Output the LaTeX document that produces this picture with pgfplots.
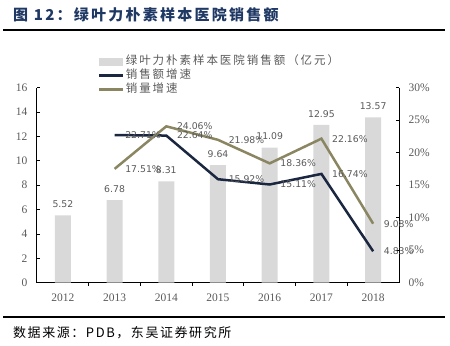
\documentclass[border=0pt]{standalone}
\usepackage{pgfplots}
\pgfplotsset{compat=1.18}
\usepackage{fontspec}
\setmainfont{Liberation Serif}
\newfontfamily\cjkleg[LetterSpace=17]{Noto Sans CJK SC}
\newfontfamily\cjktitle[LetterSpace=15]{Noto Sans CJK SC}
\newfontfamily\cjkfoot[LetterSpace=12]{Noto Sans CJK SC}
\newfontfamily\dlab{DejaVu Sans}
\definecolor{barcol}{RGB}{217,217,217}
\definecolor{linenavy}{RGB}{27,38,64}
\definecolor{lineolive}{RGB}{139,134,98}
\definecolor{txtgray}{RGB}{89,89,89}
\definecolor{titleblue}{RGB}{31,56,100}
\pgfplotsset{
 barlegend/.style={legend image code/.code={\fill[barcol] (0bp,-3.5bp) rectangle (23bp,3.5bp);}},
 linelegend/.style={legend image code/.code={\draw[##1, line width=2.6bp] (0bp,0bp) -- (24bp,0bp);}},
}
\begin{document}
\begin{tikzpicture}
\useasboundingbox (0,0) rectangle (450bp,-346bp);
\node[anchor=west, inner sep=0, text=titleblue, font=\cjktitle\bfseries\fontsize{15bp}{16bp}\selectfont] at (13bp,-15bp) {图 12：绿叶力朴素样本医院销售额};
\draw[line width=2bp] (3bp,-30.3bp) -- (445bp,-30.3bp);
\draw[line width=1.8bp] (3bp,-317bp) -- (445bp,-317bp);
\node[anchor=west, inner sep=0, font=\cjkfoot\fontsize{13bp}{14bp}\selectfont] at (13bp,-333bp) {数据来源：PDB，东吴证券研究所};

\begin{axis}[
 at={(37bp,-282.7bp)}, anchor=south west, scale only axis, width=362bp, height=195bp,
 clip=false,
 xmin=-0.5, xmax=6.5, ymin=0, ymax=16,
 axis x line*=bottom, axis y line*=left,
 axis line style={black, line width=1bp},
 xtick={0,...,6}, xticklabels={2012,2013,2014,2015,2016,2017,2018},
 minor xtick={0.5,1.5,2.5,3.5,4.5,5.5},
 ytick={0,2,...,16},
 tick align=inside, major tick length=3bp, minor tick length=3bp,
 tick style={black, line width=0.8bp},
 major x tick style={draw=none},
 /pgf/number format/assume math mode=true,
 tick label style={font=\fontsize{11.5bp}{12bp}\selectfont, text=txtgray},
 xticklabel style={yshift=-5bp},
 yticklabel style={xshift=-6bp},
 ybar, bar width=16bp,
 nodes near coords={\pgfmathprintnumber[fixed,fixed zerofill,precision=2]{\pgfplotspointmeta}},
 every node near coord/.append style={font=\dlab\fontsize{9.3bp}{10bp}\selectfont, text=txtgray, inner sep=2bp, yshift=5.5bp},
]
\addplot[fill=barcol, draw=none] coordinates {(0,5.52) (1,6.78) (2,8.31) (3,9.64) (4,11.09) (5,12.95) (6,13.57)};
\end{axis}

\begin{axis}[
 at={(37bp,-282.7bp)}, anchor=south west, scale only axis, width=362bp, height=195bp,
 clip=false,
 xmin=-0.5, xmax=6.5, ymin=0, ymax=30,
 axis x line=none, axis y line*=right,
 axis line style={black, line width=1bp},
 ytick={0,5,...,30}, yticklabel={\pgfmathprintnumber{\tick}\%},
 tick align=inside, major tick length=3bp,
 tick style={black, line width=0.8bp},
 /pgf/number format/assume math mode=true,
 tick label style={font=\fontsize{11.5bp}{12bp}\selectfont, text=txtgray},
 yticklabel style={xshift=6bp},
 legend style={at={(0.1685,1.172)}, anchor=north west, draw=none, fill=none, inner sep=0pt,
   font=\cjkleg\fontsize{11.5bp}{13bp}\selectfont, text=txtgray,
   nodes={inner sep=1bp, text height=9bp, text depth=3bp}},
 legend cell align=left,
 nodes near coords={\pgfmathprintnumber[fixed,fixed zerofill,precision=2]{\pgfplotspointmeta}\%},
 nodes near coords align=horizontal,
 every node near coord/.append style={anchor=west, xshift=9.5bp, font=\dlab\fontsize{9.3bp}{10bp}\selectfont, text=txtgray, inner sep=0pt},
]
\addlegendimage{barlegend}
\addlegendentry{绿叶力朴素样本医院销售额（亿元）}
\addplot[linenavy, line width=2.5bp, linelegend] coordinates {(1,22.71) (2,22.64) (3,15.92) (4,15.11) (5,16.74) (6,4.83)};
\addlegendentry{销售额增速}
\addplot[lineolive, line width=2.5bp, linelegend] coordinates {(1,17.51) (2,24.06) (3,21.98) (4,18.36) (5,22.16) (6,9.08)};
\addlegendentry{销量增速}
\end{axis}
\end{tikzpicture}
\end{document}
